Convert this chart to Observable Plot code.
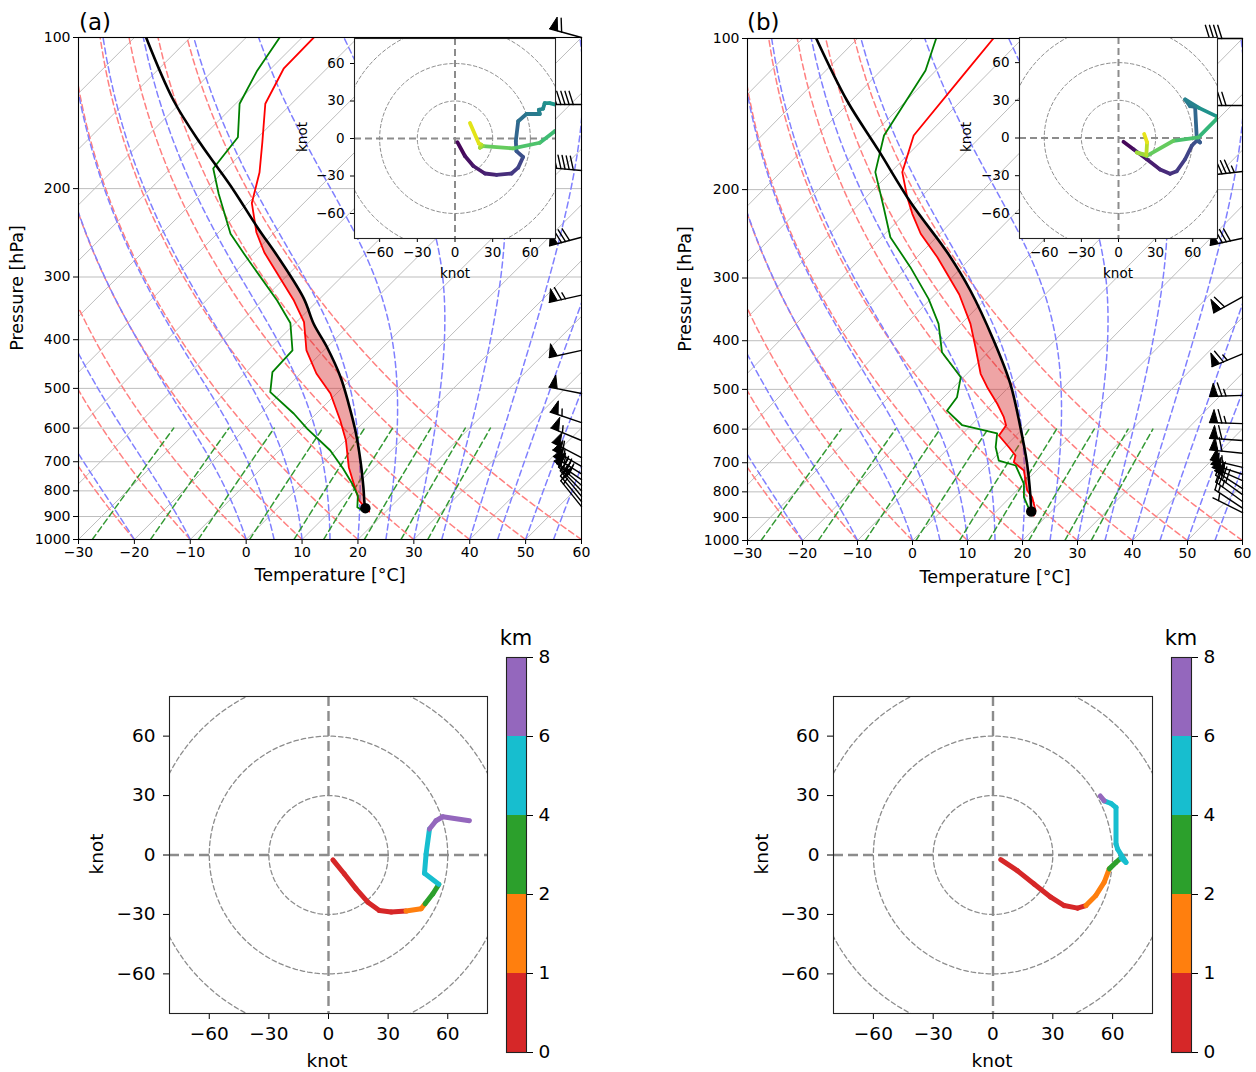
<!DOCTYPE html>
<html><head><meta charset="utf-8">
<script src="https://cdn.jsdelivr.net/npm/d3@7"></script>
<script src="https://cdn.jsdelivr.net/npm/@observablehq/plot@0.6"></script>
<style>
body{margin:0;background:#fff;color:#000;font-family:"DejaVu Sans",sans-serif;}
#root{position:relative;width:1256px;height:1072px;overflow:hidden;background:#fff;}
.lbl{position:absolute;white-space:nowrap;line-height:1;color:#000;font-family:"DejaVu Sans",sans-serif;}
</style></head><body><div id="root"></div>
<script>
// ---------------- DATA ----------------
// axis ticks / reference-line parameters
const tTicks = [-30,-20,-10,0,10,20,30,40,50,60];
const pTicks = [100,200,300,400,500,600,700,800,900,1000];
const isoT = [-120,-110,-100,-90,-80,-70,-60,-50,-40,-30,-20,-10,0,10,20,30,40,50,60];
const dryT0 = [-30,-20,-10,0,10,20,30,40,50,60];
const moistT0 = [-30,-20,-10,0,5,10,15,20,25,30,35,40,45,50,55,60];
const mixW = [0.0004,0.001,0.002,0.004,0.007,0.01,0.016,0.024,0.032];
const hTicks = [-60,-30,0,30,60];
const rings = [30,60,90];
const kmBounds = [0,1,2,4,6,8];
const binColors = ["#d62728","#ff7f0e","#2ca02c","#17becf","#9467bd"];

// panel (a) sounding
const aTempP = [100,115.4,135.5,161.8,185.8,213.7,244.6,268.1,334.2,369.1,420.2,467.0,511.8,579.3,635.0,717.8,763.0,836.3,865.5,879.6];
const aTempT = [-77.9,-77.7,-74.7,-68.3,-63.4,-59.3,-53.2,-48.2,-34.3,-28.6,-23.1,-17.2,-11.1,-4.5,0.1,5.4,8.5,13.2,15.7,17.0];
const aDewP = [100,116.3,135.5,158.0,182.4,204.8,246.1,269.7,334.2,370.5,420.2,464.2,508.7,561.7,601.8,664.9,722.0,774.6,817.3,862.2,875.6];
const aDewT = [-84.0,-82.1,-79.3,-73.6,-72.4,-66.9,-57.6,-51.6,-37.3,-30.9,-25.6,-25.3,-22.1,-14.0,-8.9,-0.9,4.6,9.0,12.1,14.1,15.6];
const aParP = [100,133.5,162.8,181.3,201.7,238.7,278.1,331.6,371.8,414.0,475.0,536.6,606.6,696.3,786.8,849.2,866];
const aParT = [-107.9,-91.7,-79.1,-71.9,-64.8,-54.0,-43.9,-32.8,-26.6,-20.0,-12.2,-6.0,0.0,6.3,11.6,14.8,15.7];
const aLclP = [866], aLclT = [15.7];
const aBarbP = [100,136,184,250,326,420,512,585,635,687,715,740,760,780,800,820,840,860];
const aBarbU = [58,88,92,75,62,50,50,53,51,48,47,45,41,33,27,20,14,8];
const aBarbV = [-16,0,-8,20,14,11,-10,-18,-21,-25,-27,-28,-28,-29,-28,-24,-17,-10];

// panel (b) sounding
const bTempP = [100,116.7,156.0,184.6,207.1,223.5,244.9,273.0,323.6,370.2,412.1,465.5,495.0,534.1,568.0,590.1,617.9,651.9,677.3,698.4,725.3,795.2,820.0,871.7,891.9];
const bTempT = [-75.3,-74.3,-72.4,-67.9,-62.5,-58.6,-53.5,-46.2,-35.6,-28.3,-23.2,-17.5,-13.9,-9.1,-5.5,-3.6,-3.1,0.8,3.5,4.4,7.7,11.9,14.0,17.0,17.6];
const bDewP = [100,115.8,156.0,184.6,216.8,248.8,285.4,330.1,370.2,421.6,472.8,518.2,551.4,588.8,612.1,651.9,693.0,708.9,771.1,820.0,864.8,884.9];
const bDewT = [-85.7,-81.9,-77.8,-72.8,-65.0,-58.4,-49.4,-40.4,-34.1,-28.4,-20.5,-17.6,-17.0,-11.7,-3.8,-1.6,1.35,5.3,10.1,12.5,15.5,17.3];
const bParP = [100,132.9,167.1,211.9,268.5,317.7,399.5,487.4,594.7,703.6,820.0,875.6];
const bParT = [-107.5,-90.8,-76.1,-61.0,-44.9,-34.3,-21.1,-10.3,-0.7,7.1,13.7,16.4];
const bLclP = [875.6], bLclT = [16.4];
const bBarbP = [100,136,184,250,327,425,514,585,632,670,715,738,760,788,810,836,862,880];
const bBarbU = [40,70,85,79,54,60,63,63,61,59,55,53,50,40,32,22,12,4];
const bBarbV = [0,0,10,17,30,25,2,-2,-4,-6,-13,-17,-22,-26,-23,-16,-8,-2];

// inset hodographs (knot, height km)
const insAU = [1.9,7.9,14.6,23.8,33.1,45.0,50.3,54.2,48.9,48.4,50.3,56.9,67.5,66.7,70.1,71.4,75.4,84,93,90,79.4,67.5,46.3,22.5,19.8,21.0,19.0,11.9];
const insAV = [-2.9,-14.0,-22.0,-28.0,-29.1,-28.0,-23.3,-14.8,-10.1,-2.1,13.8,19.6,19.6,23.0,23.8,28.3,28.3,26,20,12,5.8,-3.4,-7.9,-6.1,-7.4,-5.0,-4.0,12.4];
const insAZ = [0,0.5,0.9,1.3,1.7,2.3,3.0,3.6,4.2,4.8,5.6,6.2,6.8,7.1,7.4,7.8,8.2,8.8,9.5,10.2,10.8,11.2,11.8,12.6,13.6,14.2,14.6,16];
const insBU = [4.0,12.1,22.9,33.6,41.7,47.1,53.8,59.2,63.2,65.9,63.2,61.9,57.8,53.8,65.0,79.4,86,79.4,64.6,44.4,22.9,14.8,22.5,23.1,20.7];
const insBV = [-3.0,-8.9,-16.9,-25.0,-28.5,-26.4,-16.9,-6.2,-2.2,-3.5,0.5,24.8,25.3,30.7,24.0,17.2,14,15.3,0.5,-2.2,-14.3,-11.6,-13.5,-3.5,3.2];
const insBZ = [0,0.5,1.0,1.6,2.1,2.5,3.0,3.6,4.0,4.3,4.8,5.8,6.2,6.6,7.6,8.6,9.4,10.2,11.0,11.8,12.6,13.4,13.9,14.8,16];

// bottom hodographs 0-8 km
const hodAU = [2.2,8.0,13.9,19.8,25.6,31.5,39.0,46.6,48.6,52.5,55.5,48.3,49.1,50.8,54.1,57.5,70.9];
const hodAV = [-2.5,-9.6,-17.1,-23.8,-28.0,-28.8,-28.3,-27.1,-24.6,-19.6,-14.8,-9.2,0.5,13.1,17.3,19.3,17.3];
const hodAZ = [0,0.15,0.3,0.45,0.6,0.75,1.0,1.6,2.0,3.0,4.0,4.6,5.2,6.0,6.5,7.0,8.0];
const hodBU = [3.9,12.2,20.6,29.0,35.7,42.4,46.6,51.6,55.8,58.3,61.7,64.2,66.7,62.5,61.7,61.7,59.2,55.8,53.8];
const hodBV = [-2.3,-7.9,-14.6,-21.3,-25.5,-26.8,-25.5,-20.4,-13.7,-7.0,-3.7,-1.5,-3.7,3.0,5.5,24.0,26.0,27.3,29.8];
const hodBZ = [0,0.2,0.4,0.6,0.75,0.9,1.0,1.3,1.7,2.0,2.8,4.0,4.3,4.7,5.0,5.5,5.7,6.0,6.4];

// ---------------- HELPERS ----------------
const root = document.getElementById("root");
function place(el, left, top){const d=document.createElement("div");d.style.cssText=`position:absolute;left:${left}px;top:${top}px;`;d.appendChild(el);root.appendChild(d);}
function label(txt,x,y,size,opt={}){
  const d=document.createElement("div");d.className="lbl";d.textContent=txt;d.style.fontSize=size+"px";
  if(opt.rotate){d.style.left=x+"px";d.style.top=y+"px";d.style.transform="translate(-50%,-50%) rotate(-90deg)";}
  else{d.style.left=x+"px";d.style.top=(y-0.846*size)+"px";if(opt.center)d.style.transform="translateX(-50%)";}
  root.appendChild(d);
}
// thermodynamic reference curves (MetPy-style background lines)
const Rd=287.04749,Cp=1004.6662,Lv=2.50084e6,eps=0.621957,kap=Rd/Cp;
const esat=Tk=>{const tc=Tk-273.15;return 6.112*Math.exp(17.67*tc/(tc+243.5));};
const rsat=(p,Tk)=>{const e=esat(Tk);return eps*e/(p-e);};
const dTdp=(p,Tk)=>{const r=rsat(p,Tk);return (Rd*Tk+Lv*r)/(Cp+Lv*Lv*r*eps/(Rd*Tk*Tk))/p;};
function moistAdiabat(t0){let T=t0+273.15,p=1000;const out=[{p,T:t0}];const n=90,h=(100-1000)/n;
  for(let i=0;i<n;i++){const k1=dTdp(p,T),k2=dTdp(p+h/2,T+h/2*k1),k3=dTdp(p+h/2,T+h/2*k2),k4=dTdp(p+h,T+h*k3);
    T+=h/6*(k1+2*k2+2*k3+k4);p+=h;out.push({p,T:T-273.15});}return out;}
function interpLogP(P,T,p){for(let i=0;i<P.length-1;i++){if(p>=P[i]&&p<=P[i+1]){const f=(Math.log(p)-Math.log(P[i]))/(Math.log(P[i+1])-Math.log(P[i]));return T[i]+f*(T[i+1]-T[i]);}}return NaN;}

// ---------------- SKEW-T ----------------
function skewT(c){
  const sx=(T,p)=>T+90*Math.log10(1000/p);
  const plevs=d3.range(1000,99.9,-10);
  const dry=dryT0.flatMap(t0=>plevs.map(p=>({g:t0,p,x:sx((t0+273.15)*Math.pow(p/1000,kap)-273.15,p)})));
  const moist=moistT0.flatMap(t0=>moistAdiabat(t0).map(d=>({g:t0,p:d.p,x:sx(d.T,d.p)})));
  const mix=mixW.flatMap(w=>d3.range(1000,599,-10).map(p=>{const e=p*w/(eps+w),l=Math.log(e/6.112);return {g:w,p,x:sx(243.5*l/(17.67-l),p)};}));
  const prof=(P,T)=>P.map((p,i)=>({p,x:sx(T[i],p)}));
  // CAPE shading between environment and parcel
  const lo=Math.max(c.tP[0],c.parP[0]),hi=Math.min(c.tP[c.tP.length-1],c.parP[c.parP.length-1]);
  const lv=Array.from(new Set([...d3.range(lo,hi,3),...c.tP,...c.parP,hi].filter(p=>p>=lo&&p<=hi))).sort((a,b)=>a-b);
  const cape=lv.map(p=>{const te=interpLogP(c.tP,c.tT,p),tp=interpLogP(c.parP,c.parT,p);return {p,x1:sx(te,p),x2:sx(Math.max(te,tp),p)};});
  // wind barbs (geometry built in pixel space, mapped back through the scales)
  const xS=Plot.scale({x:{domain:[-30,60],range:[c.mL,c.W-c.mR]}});
  const yS=Plot.scale({y:{type:"log",domain:[1000,100],range:[c.H-c.mB,c.mT]}});
  const L=33,bw=0.25*L,bh=0.4*L,sp=0.125*L;const bl=[],bp=[];let gid=0;
  c.bP.forEach((p,i)=>{const u=c.bU[i],v=c.bV[i];let s=Math.hypot(u,v);
    const bx=xS.apply(60),by=yS.apply(p);const dx=-u/s,dy=v/s,nx=-dy,ny=dx;
    const pt=(o,hh)=>({x:xS.invert(bx+dx*o+nx*hh),y:yS.invert(by+dy*o+ny*hh)});
    s=Math.round(s/5)*5;const nP=Math.floor(s/50),nB=Math.floor((s%50)/10),half=(s%10)>=5;
    let g=gid++;bl.push({...pt(0,0),g},{...pt(L,0),g});
    let off=L;
    for(let k=0;k<nP;k++){g=gid++;bp.push({...pt(off,0),g},{...pt(off-bw/2,bh),g},{...pt(off-bw,0),g});off-=bw+sp;}
    for(let k=0;k<nB;k++){g=gid++;bl.push({...pt(off,0),g},{...pt(off+bw/2,bh),g});off-=sp;}
    if(half){if(off===L)off-=1.5*sp;g=gid++;bl.push({...pt(off,0),g},{...pt(off+bw/4,bh/2),g});}
  });
  const dash="6,3.6";
  const svg=Plot.plot({
    width:c.W,height:c.H,marginLeft:c.mL,marginRight:c.mR,marginTop:c.mT,marginBottom:c.mB,
    style:{background:"transparent",fontFamily:"DejaVu Sans",fontSize:"14px",overflow:"visible"},
    x:{domain:[-30,60]},y:{type:"log",domain:[1000,100]},
    marks:[
      Plot.link(isoT,{x1:t=>t,x2:t=>t+90,y1:1000,y2:100,stroke:"#bdbdbd",strokeWidth:1,clip:true}),
      Plot.ruleY(pTicks,{stroke:"#bdbdbd",strokeWidth:1}),
      Plot.line(dry,{x:"x",y:"p",z:"g",stroke:"#ff8080",strokeWidth:1.5,strokeDasharray:dash,clip:true}),
      Plot.line(moist,{x:"x",y:"p",z:"g",stroke:"#8080ff",strokeWidth:1.5,strokeDasharray:dash,clip:true}),
      Plot.line(mix,{x:"x",y:"p",z:"g",stroke:"#339933",strokeWidth:1.5,strokeDasharray:dash,clip:true}),
      Plot.areaX(cape,{y:"p",x1:"x1",x2:"x2",fill:"#d62728",fillOpacity:0.42,clip:true}),
      Plot.line(prof(c.tP,c.tT),{x:"x",y:"p",stroke:"#ff0000",strokeWidth:1.8,clip:true}),
      Plot.line(prof(c.dP,c.dT),{x:"x",y:"p",stroke:"#008000",strokeWidth:1.8,clip:true}),
      Plot.line(prof(c.parP,c.parT),{x:"x",y:"p",stroke:"#000",strokeWidth:2.6,curve:"catmull-rom",clip:true}),
      Plot.dot(prof(c.lclP,c.lclT),{x:"x",y:"p",r:4.5,fill:"#000",stroke:"#000"}),
      Plot.line(bl,{x:"x",y:"y",z:"g",stroke:"#000",strokeWidth:1.4}),
      Plot.line(bp,{x:"x",y:"y",z:"g",fill:"#000",stroke:"#000",strokeWidth:1}),
      Plot.axisX(tTicks,{tickSize:5,tickPadding:3,label:null}),
      Plot.axisY(pTicks,{tickSize:5,tickPadding:3,label:null,tickFormat:d=>String(d)}),
      Plot.frame({stroke:"#000",strokeWidth:1.1})
    ]});
  place(svg,c.left,c.top);
}

// ---------------- HODOGRAPH ----------------
function hodo(c){
  const segs=d3.range(c.U.length-1).map(i=>({x1:c.U[i],y1:c.V[i],x2:c.U[i+1],y2:c.V[i+1],z:(c.Z[i]+c.Z[i+1])/2}));
  const ringPts=rings.flatMap(r=>d3.range(0,361,2).map(a=>({r,x:r*Math.cos(a*Math.PI/180),y:r*Math.sin(a*Math.PI/180)})));
  const svg=Plot.plot({
    width:c.W,height:c.H,marginLeft:c.mL,marginRight:c.mR,marginTop:c.mT,marginBottom:c.mB,
    style:{background:"transparent",fontFamily:"DejaVu Sans",fontSize:c.fs+"px",overflow:"visible"},
    x:{domain:[-80,80]},y:{domain:[-80,80]},color:c.color,
    marks:[
      Plot.frame({fill:"#fff",stroke:"none"}),
      Plot.line(ringPts,{x:"x",y:"y",z:"r",stroke:"#8c8c8c",strokeWidth:c.ringW,strokeDasharray:c.ringDash,clip:true}),
      Plot.ruleX([0],{stroke:"#8c8c8c",strokeWidth:c.crossW,strokeDasharray:c.crossDash}),
      Plot.ruleY([0],{stroke:"#8c8c8c",strokeWidth:c.crossW,strokeDasharray:c.crossDash}),
      Plot.link(segs,{x1:"x1",y1:"y1",x2:"x2",y2:"y2",stroke:"z",strokeWidth:c.lw,strokeLinecap:"round",clip:true}),
      Plot.axisX(hTicks,{tickSize:c.ts,tickPadding:c.tp,label:null}),
      Plot.axisY(hTicks,{tickSize:c.ts,tickPadding:c.tp+1,label:null}),
      Plot.frame({stroke:"#222",strokeWidth:1.1})
    ]});
  place(svg,c.left,c.top);
}
function cbar(c){
  const bins=binColors.map((col,i)=>({i,col}));
  const svg=Plot.plot({
    width:c.W,height:c.H,marginLeft:c.mL,marginRight:c.mR,marginTop:c.mT,marginBottom:c.mB,
    style:{background:"transparent",fontFamily:"DejaVu Sans",fontSize:"18.5px",overflow:"visible"},
    x:{domain:[0,1],axis:null},y:{domain:[0,5]},color:{type:"identity"},
    marks:[
      Plot.rect(bins,{x1:0,x2:1,y1:"i",y2:d=>d.i+1,fill:"col"}),
      Plot.axisY(d3.range(kmBounds.length),{anchor:"right",tickSize:6,tickPadding:6,label:null,tickFormat:i=>String(kmBounds[i])}),
      Plot.frame({stroke:"#222",strokeWidth:1.1})
    ]});
  place(svg,c.left,c.top);
}

// ---------------- DRAW ----------------
skewT({left:0,top:0,W:600,H:600,mL:78,mR:19,mT:37,mB:61,tP:aTempP,tT:aTempT,dP:aDewP,dT:aDewT,parP:aParP,parT:aParT,lclP:aLclP,lclT:aLclT,bP:aBarbP,bU:aBarbU,bV:aBarbV});
skewT({left:668,top:0,W:588,H:600,mL:79,mR:14,mT:38,mB:60,tP:bTempP,tT:bTempT,dP:bDewP,dT:bDewT,parP:bParP,parT:bParT,lclP:bLclP,lclT:bLclT,bP:bBarbP,bU:bBarbU,bV:bBarbV});
const vir={type:"linear",scheme:"viridis",domain:[0,16]};
hodo({left:290,top:0,W:275,H:290,mL:64,mR:10,mT:38,mB:52,U:insAU,V:insAV,Z:insAZ,color:vir,fs:13.5,ts:4,tp:5,lw:3.8,ringW:1,ringDash:"3.5,2.5",crossW:2,crossDash:"7,4"});
hodo({left:955,top:0,W:272,H:290,mL:64,mR:10,mT:37,mB:52,U:insBU,V:insBV,Z:insBZ,color:vir,fs:13.5,ts:4,tp:5,lw:3.8,ringW:1,ringDash:"3.5,2.5",crossW:2,crossDash:"7,4"});
const thr={type:"threshold",domain:[1,2,4,6],range:binColors};
hodo({left:60,top:640,W:440,H:432,mL:109,mR:13,mT:56,mB:59,U:hodAU,V:hodAV,Z:hodAZ,color:thr,fs:18.5,ts:6,tp:7,lw:5,ringW:1.3,ringDash:"4.5,3",crossW:2.4,crossDash:"10,5"});
hodo({left:724,top:640,W:440,H:432,mL:109,mR:12,mT:56,mB:59,U:hodBU,V:hodBV,Z:hodBZ,color:thr,fs:18.5,ts:6,tp:7,lw:5,ringW:1.3,ringDash:"4.5,3",crossW:2.4,crossDash:"10,5"});
cbar({left:490,top:620,W:70,H:450,mL:16,mR:34,mT:37,mB:18});
cbar({left:1155,top:620,W:70,H:450,mL:16,mR:34,mT:37,mB:18});

// ---------------- TEXT ----------------
label("(a)",79,30,23);label("(b)",747,30,23);
label("Pressure [hPa]",18,288,17.5,{rotate:true});label("Pressure [hPa]",686,289,17.5,{rotate:true});
label("Temperature [°C]",330,582,17.5,{center:true});label("Temperature [°C]",995,584,17.5,{center:true});
label("knot",455,278,13.5,{center:true});label("knot",303,137,13.5,{rotate:true});
label("knot",1118,278,13.5,{center:true});label("knot",967,137,13.5,{rotate:true});
label("knot",327,1068,18.5,{center:true});label("knot",97,854,18.5,{rotate:true});
label("knot",992,1068,18.5,{center:true});label("knot",762,854,18.5,{rotate:true});
label("km",516,646,21,{center:true});label("km",1181,646,21,{center:true});
</script></body></html>
